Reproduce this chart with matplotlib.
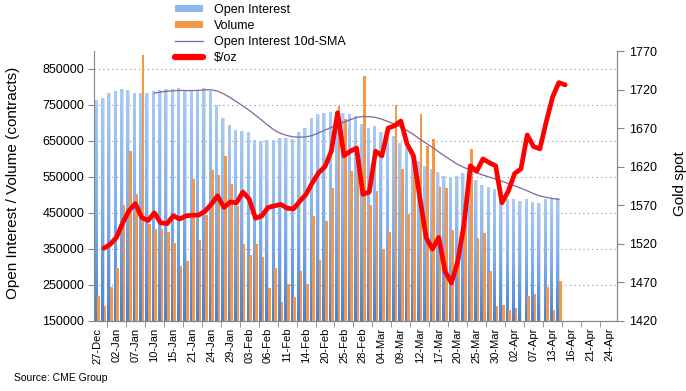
import numpy as np
import matplotlib
matplotlib.use("Agg")
import matplotlib.pyplot as plt
from matplotlib.colors import LinearSegmentedColormap
from matplotlib.patches import Patch
from matplotlib.lines import Line2D

plt.rcParams['font.family'] = ['Liberation Sans', 'DejaVu Sans']

# trading days, 27-Dec-2019 .. 24-Apr-2020 (only every 3rd day is labelled)
tick_labels = ['27-Dec', '02-Jan', '07-Jan', '10-Jan', '15-Jan', '21-Jan', '24-Jan',
               '29-Jan', '03-Feb', '06-Feb', '11-Feb', '14-Feb', '20-Feb', '25-Feb',
               '28-Feb', '04-Mar', '09-Mar', '12-Mar', '17-Mar', '20-Mar', '25-Mar',
               '30-Mar', '02-Apr', '07-Apr', '13-Apr', '16-Apr', '21-Apr', '24-Apr']

# open interest (contracts), 27-Dec .. 14-Apr
open_interest = [764, 770, 784, 787, 795, 790, 784, 784, 784, 787,
                 792, 795, 795, 797, 792, 790, 790, 797, 787, 748,
                 714, 694, 681, 678, 673, 653, 649, 653, 653, 658,
                 658, 655, 673, 686, 714, 723, 728, 730, 730, 727,
                 724, 719, 696, 684, 691, 674, 661, 663, 643, 631,
                 615, 593, 579, 572, 562, 552, 548, 551, 559, 559,
                 541, 527, 522, 515, 503, 488, 488, 482, 488, 479,
                 477, 488, 490, 490]
open_interest = [v * 1000 for v in open_interest]

# volume (contracts)
volume = [220, 190, 243, 296, 472, 623, 502, 888, 420, 404,
          404, 396, 366, 301, 316, 544, 374, 444, 569, 555,
          609, 530, 470, 363, 332, 363, 327, 241, 297, 203,
          251, 215, 288, 251, 441, 320, 427, 519, 747, 711,
          566, 600, 830, 473, 510, 348, 398, 749, 571, 447,
          600, 724, 636, 655, 521, 518, 401, 312, 419, 627,
          381, 394, 289, 190, 193, 179, 184, 148, 220, 225,
          148, 244, 180, 261]
volume = [v * 1000 for v in volume]

# 10-day SMA of open interest, starts on the 10th day
oi_sma = [782.9, 785.7, 788.2, 789.3, 790.3, 790.0, 790.0, 790.6, 791.9, 792.2,
          788.3, 780.5, 770.4, 759.0, 747.1, 735.2, 721.5, 707.4, 693.0, 679.6,
          670.6, 665.0, 661.1, 660.3, 661.1, 665.2, 672.2, 680.1, 687.8, 695.5,
          702.4, 709.0, 715.4, 717.7, 717.5, 715.2, 710.3, 703.6, 696.9, 688.2,
          678.6, 667.7, 655.1, 643.4, 632.2, 619.3, 607.1, 595.8, 584.6, 576.2,
          569.0, 561.6, 555.0, 549.3, 543.6, 537.7, 531.3, 525.3, 518.4, 511.3,
          503.3, 496.9, 493.0, 489.8, 487.3]
oi_sma = [v * 1000 for v in oi_sma]

# gold spot $/oz, 30-Dec .. 15-Apr
gold = [1514, 1519, 1528, 1547, 1563, 1572, 1554, 1550, 1560, 1547,
        1546, 1556, 1552, 1556, 1557, 1557, 1562, 1571, 1582, 1567,
        1574, 1573, 1587, 1578, 1553, 1556, 1567, 1569, 1571, 1566,
        1565, 1575, 1584, 1599, 1612, 1620, 1640, 1690, 1634, 1640,
        1644, 1584, 1587, 1640, 1634, 1670, 1673, 1679, 1649, 1634,
        1580, 1528, 1513, 1528, 1484, 1469, 1497, 1545, 1621, 1614,
        1630, 1625, 1621, 1573, 1588, 1611, 1617, 1661, 1646, 1643,
        1678, 1710, 1729, 1726]

W, H = 686, 391
fig = plt.figure(figsize=(W / 100, H / 100), dpi=100)
ax = fig.add_axes([94 / W, 1 - 320.7 / H, (617 - 94) / W, (320.7 - 51) / H])
ax2 = ax.twinx()

idx = np.arange(len(open_interest))
ymin, ymax = 150000, 900000

# blue OI bars with a vertical gradient and a light shadow
blue_cmap = LinearSegmentedColormap.from_list('oi', ['#4682d3', '#7fb0ee', '#a8cbf7'])
grad = np.linspace(0, 1, 256).reshape(-1, 1)
ax.bar(idx - 0.08, open_interest, width=0.42, color='#dedede', zorder=1.5)
oi_bars = ax.bar(idx - 0.21, open_interest, width=0.42, color='none', zorder=2)
for p in oi_bars:
    x0 = p.get_x()
    ax.imshow(grad, extent=[x0, x0 + p.get_width(), ymin, p.get_height()],
              origin='lower', aspect='auto', cmap=blue_cmap, zorder=2)
ax.bar(idx + 0.21, volume, width=0.42, color='#f79646', zorder=3)

ax.plot(idx[9:], oi_sma, color='#8064a2', lw=0.9, zorder=4)
ax2.plot(np.arange(1, len(gold) + 1), gold, color='#ff0000', lw=3.4,
         solid_joinstyle='round', solid_capstyle='round', zorder=5)

ax.set_xlim(-0.55, 82.2)
ax.set_ylim(ymin, ymax)
ax2.set_ylim(1420, 1770)

ax.set_yticks(np.arange(150000, 850001, 100000))
ax.set_yticklabels([str(v) for v in range(150000, 850001, 100000)], fontsize=9)
ax2.set_yticks(np.arange(1420, 1771, 50))
ax2.set_yticklabels([str(v) for v in range(1420, 1771, 50)], fontsize=9)

ax.set_xticks(np.arange(0, 3 * len(tick_labels), 3))
ax.set_xticklabels(tick_labels, rotation=90, fontsize=8)
ax.set_xticks(np.arange(1.5, 82, 3), minor=True)
ax.tick_params(axis='x', which='major', length=0, pad=5)
ax.tick_params(axis='x', which='minor', length=4, color='#868686')
ax.tick_params(axis='y', length=4, color='#868686', pad=3)
ax2.tick_params(axis='y', length=5, color='#868686', pad=4)

ax.set_axisbelow(True)
ax.yaxis.grid(True, linestyle=(0, (1, 3)), color='#8c8c8c', lw=0.8)

for a in (ax, ax2):
    a.spines['top'].set_visible(False)
    for s in ('left', 'right', 'bottom'):
        a.spines[s].set_color('#868686')
ax2.spines['left'].set_visible(False)

ax.set_ylabel('Open Interest / Volume (contracts)', fontsize=11)
ax.yaxis.set_label_coords(-0.142, 0.51)
ax2.set_ylabel('Gold spot', fontsize=11)
ax2.yaxis.set_label_coords(1.108, 0.51)

handles = [Patch(facecolor='#8db8f0'), Patch(facecolor='#f79646'),
           Line2D([], [], color='#8064a2', lw=0.9),
           Line2D([], [], color='#ff0000', lw=4.5, solid_capstyle='round')]
fig.legend(handles, ['Open Interest', 'Volume', 'Open Interest 10d-SMA', '$/oz'],
           loc='upper left', bbox_to_anchor=(175 / W, 1 - 4 / H), frameon=False,
           fontsize=9, handlelength=2.2, handleheight=0.55, handletextpad=0.9,
           labelspacing=0.33, borderpad=0, borderaxespad=0)

fig.text(14 / W, 1 - 378 / H, 'Source: CME Group', fontsize=7.5, va='center')

fig.savefig('out.png', dpi=100)
